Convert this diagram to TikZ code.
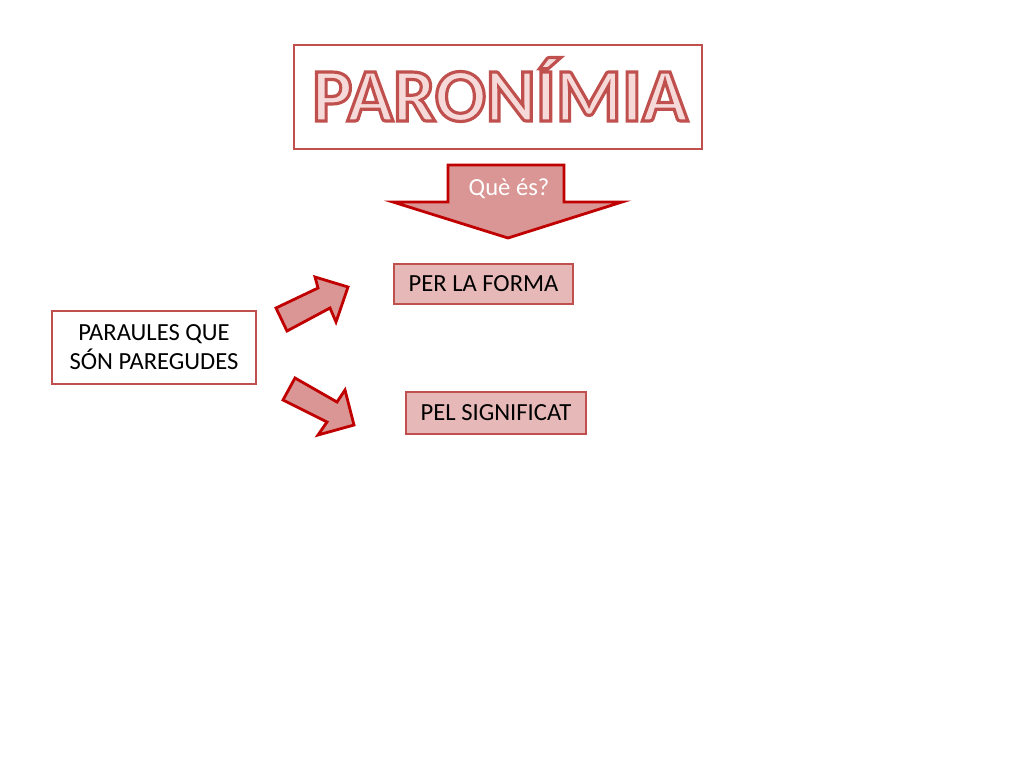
\documentclass[tikz,border=0pt]{standalone}
\usepackage{fontspec}
\setmainfont{Carlito}
\definecolor{titlered}{RGB}{192, 80, 77}
\definecolor{darkred}{RGB}{192, 0, 0}
\definecolor{rosefill}{RGB}{217, 150, 148}
\definecolor{boxfill}{RGB}{230, 185, 184}
\definecolor{letterfill}{RGB}{245, 214, 213}
% outlined letters: fill letterfill, stroke titlered
\newcommand{\outlined}[1]{\special{pdf:code q 2 Tr 1.8 w 0.753 0.314 0.302 RG 0.965 0.855 0.851 rg}#1\special{pdf:code Q}}
\tikzset{
  redbox/.style={draw=titlered, line width=1.2pt, inner sep=0pt, align=center, font=\fontsize{14}{16.5}\selectfont},
  titletext/.style={anchor=base, inner sep=0pt, font=\fontsize{43}{43}\bfseries},
}

\begin{document}
\begin{tikzpicture}[x=0.02cm, y=-0.02cm]
            \useasboundingbox (0,0) rectangle (1024,768);
            \fill[white] (0,0) rectangle (1024,768);
            % title
            \node[redbox, fill=white, minimum width=8.16cm, minimum height=2.08cm] (titlebox) at (498,97) {};
            \node[titletext] (title) at (500,121) {\outlined{PARONÍMIA}};
            % block arrows
            \filldraw[color=darkred, fill=rosefill, line width=1.6pt] (448,165) -- (564,165) -- (564,202) -- (622,202) -- (508,238) -- (393,202) -- (448,202) -- cycle;
            \filldraw[color=darkred, fill=rosefill, line width=1.6pt] (276,308) -- (318,288) -- (315,277) -- (348,287) -- (336,322) -- (330,308) -- (287,331) -- cycle;
            \filldraw[color=darkred, fill=rosefill, line width=1.6pt] (295,378) -- (337,402) -- (345,390) -- (354,425) -- (318,435) -- (327,422) -- (283,400) -- cycle;
            \node[font=\fontsize{14}{16.5}\selectfont, text=white] (question) at (509,189) {Què és?};
            % boxes
            \node[redbox, fill=white, minimum width=4.08cm, minimum height=1.46cm] (words) at (154,347.5) {PARAULES QUE\\SÓN PAREGUDES};
            \node[redbox, fill=boxfill, minimum width=3.58cm, minimum height=0.80cm] (form) at (483.5,284) {PER LA FORMA};
            \node[redbox, fill=boxfill, minimum width=3.60cm, minimum height=0.84cm] (meaning) at (496,413) {PEL SIGNIFICAT};
\end{tikzpicture}
\end{document}
